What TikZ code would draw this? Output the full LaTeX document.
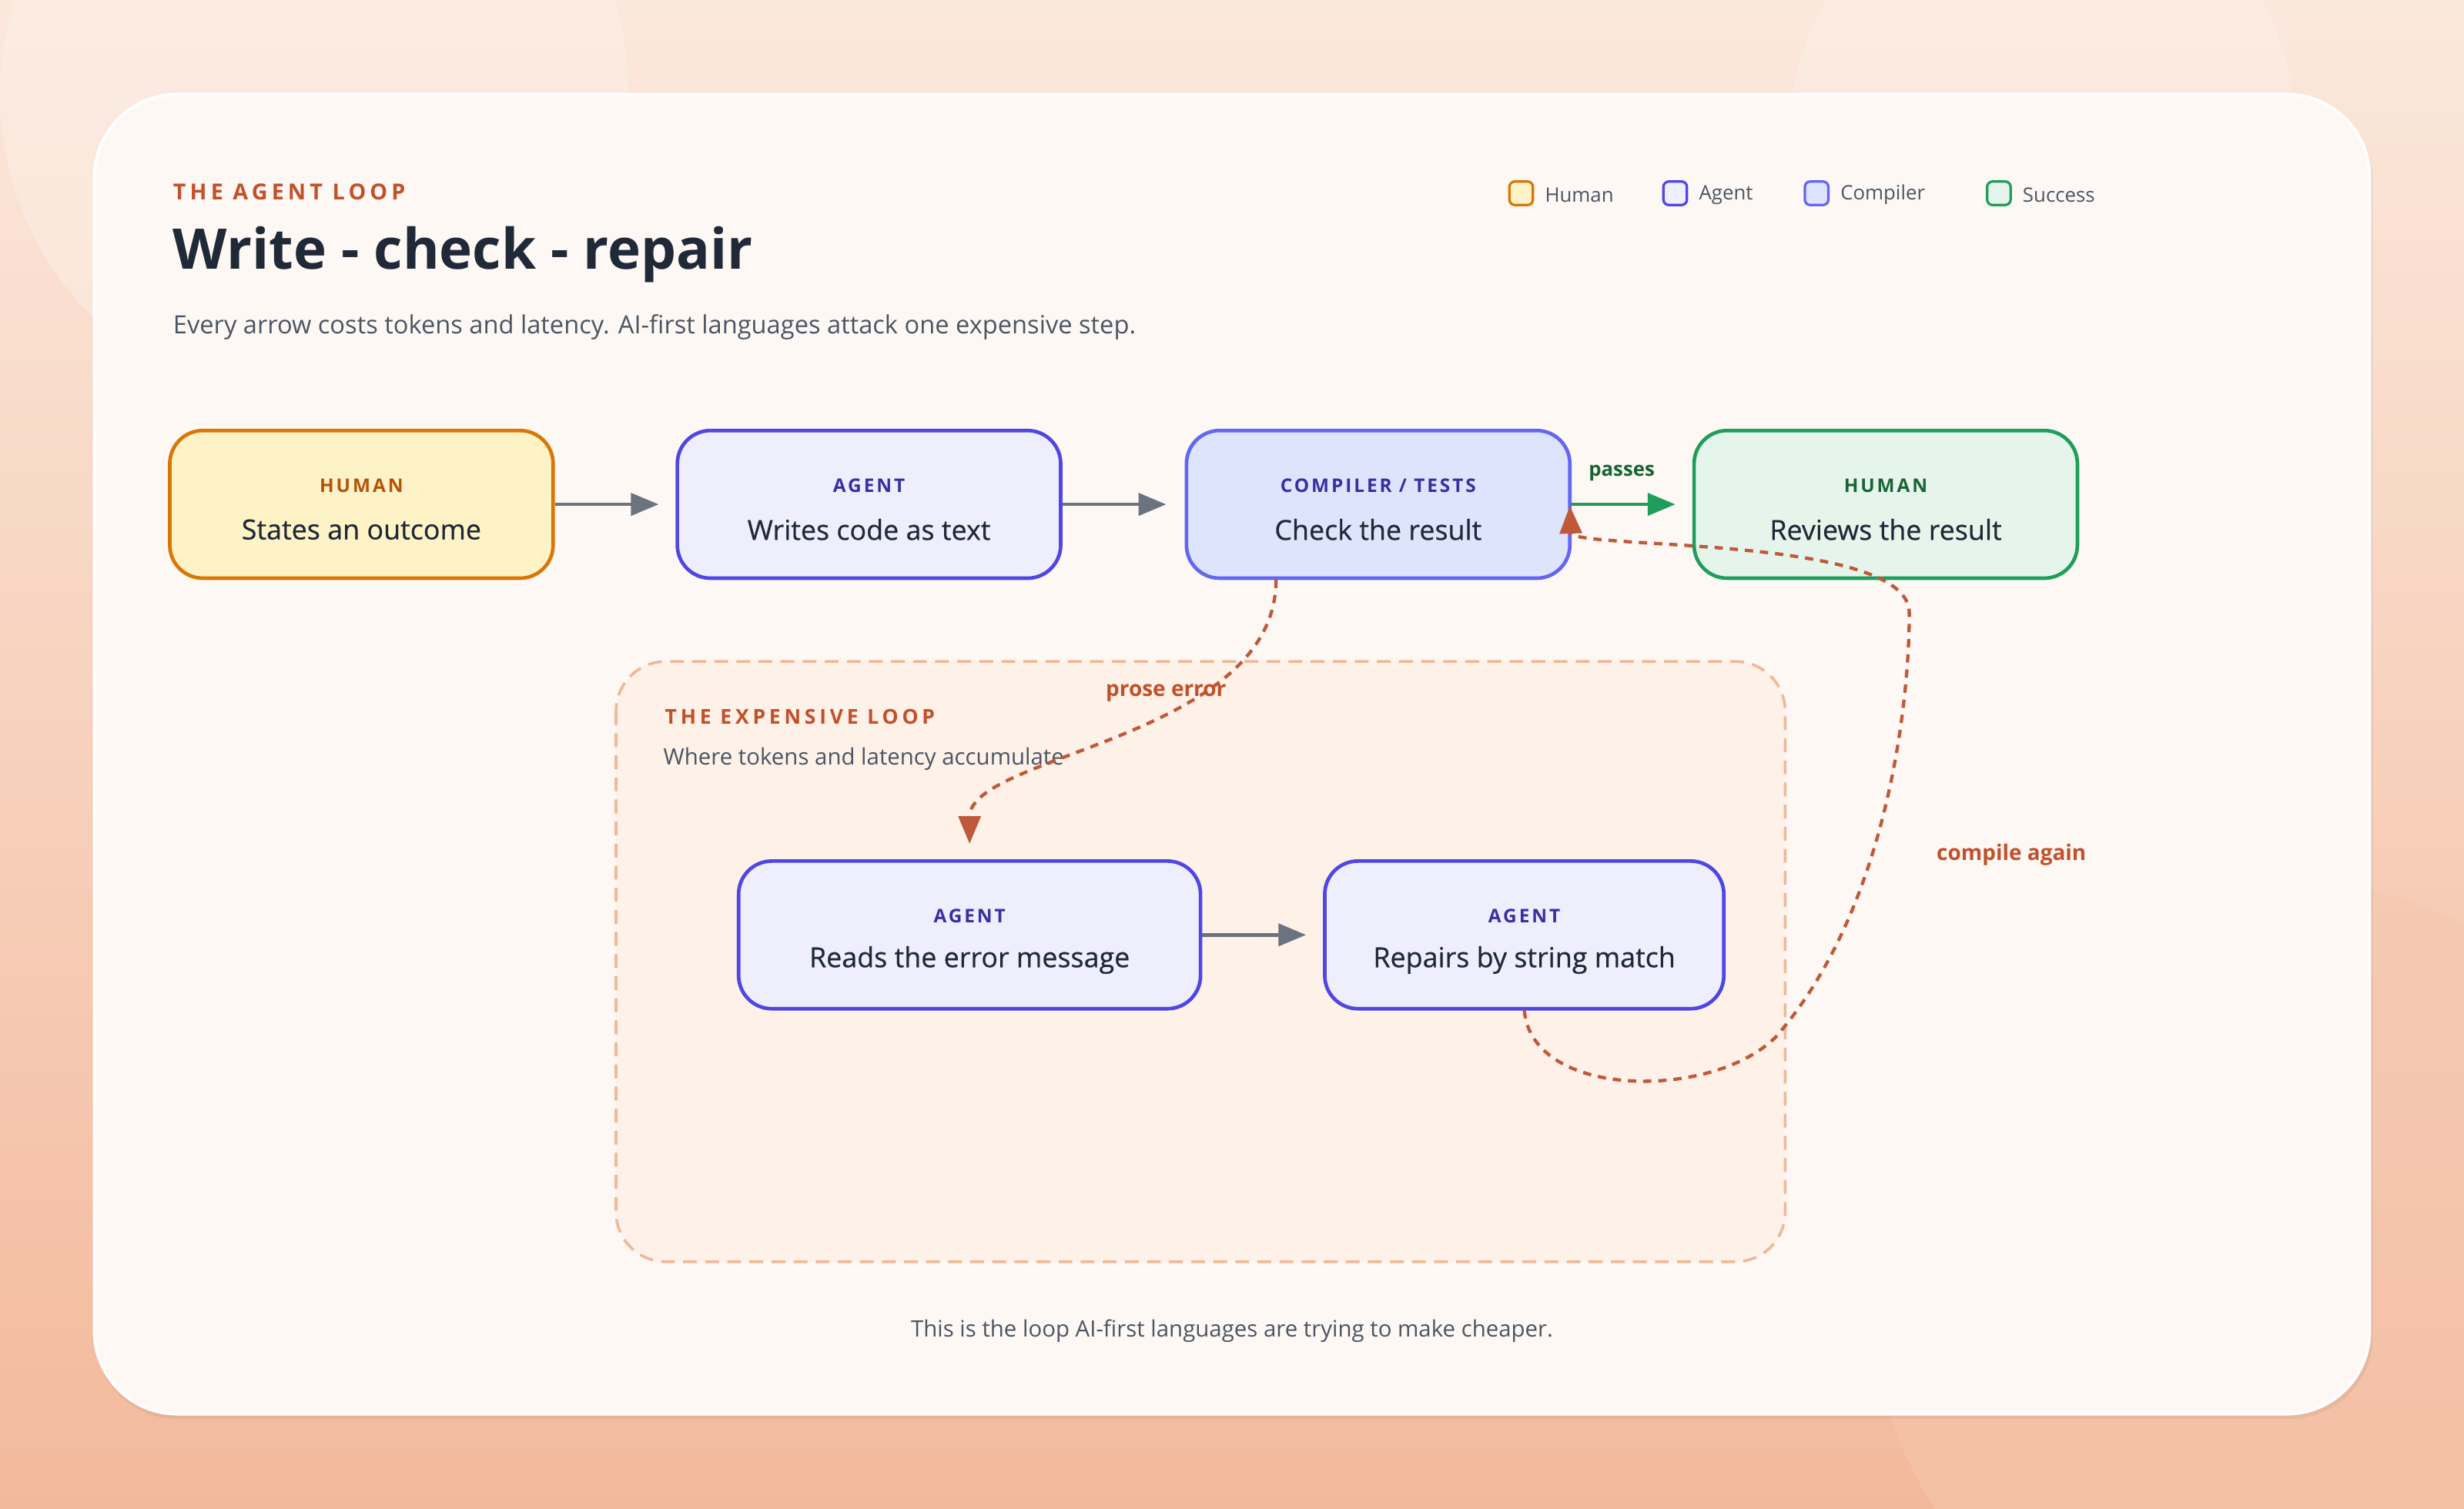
\documentclass[tikz,border=0pt]{standalone}
\usepackage{fontspec}
\setmainfont{Open Sans}
\usetikzlibrary{arrows.meta,shapes.geometric}
\definecolor{bgA}{HTML}{FBE8DC}
\definecolor{bgB}{HTML}{F3B99C}
\definecolor{card}{HTML}{FDF8F4}
\definecolor{ink}{HTML}{1F2937}
\definecolor{sub}{HTML}{4B5563}
\definecolor{orangeT}{HTML}{C2502A}
\definecolor{hFill}{HTML}{FEF3C7}\definecolor{hLine}{HTML}{D97706}\definecolor{hLab}{HTML}{B45309}
\definecolor{aFill}{HTML}{EEEEFC}\definecolor{aLine}{HTML}{4F46E5}\definecolor{aLab}{HTML}{3730A3}
\definecolor{cFill}{HTML}{DEE4FB}\definecolor{cLine}{HTML}{6366F1}
\definecolor{sFill}{HTML}{E6F5EC}\definecolor{sLine}{HTML}{1F9D5A}\definecolor{sLab}{HTML}{166534}
\definecolor{gArrow}{HTML}{6B7280}
\definecolor{loopLine}{HTML}{F0B89A}\definecolor{loopFill}{HTML}{FDF1E8}
\definecolor{redA}{HTML}{C0583A}
\begin{document}
\begin{tikzpicture}[x=0.02cm,y=-0.02cm,
  box/.style={draw, rounded corners=12, line width=1.3pt, minimum width=4.88cm, minimum height=1.88cm},
  lab/.style={font=\fontsize{6.8}{8}\selectfont\bfseries\addfontfeatures{LetterSpace=12}},
  main/.style={font=\fontsize{10}{12}\selectfont\addfontfeatures{FakeBold=0.5}, text=ink},
  garrow/.style={draw=gArrow, line width=1.3pt, -{Triangle[length=10pt,width=8pt]}},
  rarrow/.style={draw=redA, line width=1.2pt, dash pattern=on 3pt off 2.5pt, -{Triangle[length=10pt,width=8pt]}},
  leg/.style={draw, rounded corners=2, line width=0.9pt, minimum size=0.3cm, inner sep=0pt},
  legt/.style={font=\fontsize{7.2}{9}\selectfont, text=sub, anchor=west}]
\useasboundingbox (0,0) rectangle (1568,960);
\shade[left color=bgA, right color=bgB, shading angle=0] (0,0) rectangle (1568,960);
\fill[bgA!70!white, opacity=0.5] (200,60) circle (200);
\fill[bgB!70!bgA, opacity=0.5] (1450,820) circle (260);
\fill[bgA!60!white, opacity=0.4] (1300,80) circle (160);
\fill[black, opacity=0.05] (60,63) [rounded corners=30] rectangle (1510,903);
\fill[card, draw=white, line width=1pt, rounded corners=30] (60,60) rectangle (1508,900);
% header
\node[anchor=west, text=orangeT, font=\fontsize{8}{10}\selectfont\bfseries\addfontfeatures{LetterSpace=18}] (kick) at (104,122) {THE AGENT LOOP};
\node[anchor=west, text=ink, font=\fontsize{20.3}{24}\selectfont\bfseries] (title) at (104,162) {Write - check - repair};
\node[anchor=west, text=sub, font=\fontsize{9.1}{11}\selectfont] (subt) at (104,208) {Every arrow costs tokens and latency. AI-first languages attack one expensive step.};
% legend
\node[leg, draw=hLine, fill=hFill] (l1) at (968,123) {}; \node[legt] (l1t) at (977,124) {Human};
\node[leg, draw=aLine, fill=aFill] (l2) at (1066,123) {}; \node[legt] (l2t) at (1075,124) {Agent};
\node[leg, draw=cLine, fill=cFill] (l3) at (1156,123) {}; \node[legt] (l3t) at (1165,124) {Compiler};
\node[leg, draw=sLine, fill=sFill] (l4) at (1272,123) {}; \node[legt] (l4t) at (1281,124) {Success};
% loop region
\draw[loopLine, fill=loopFill, line width=1pt, dash pattern=on 5pt off 3pt, rounded corners=18] (392,421) rectangle (1136,803);
\node[anchor=west, text=orangeT, font=\fontsize{7.4}{9}\selectfont\bfseries\addfontfeatures{LetterSpace=18}] (lk) at (417,456) {THE EXPENSIVE LOOP};
\node[anchor=west, text=sub, font=\fontsize{8.2}{10}\selectfont] (ls) at (416,483) {Where tokens and latency accumulate};
% boxes
\node[box, draw=hLine, fill=hFill] (b1) at (230,321) {};
\node[lab, text=hLab] at (230,309) {HUMAN};
\node[main] at (230,337) {States an outcome};
\node[box, draw=aLine, fill=aFill] (b2) at (553,321) {};
\node[lab, text=aLab] at (553,309) {AGENT};
\node[main] at (553,337) {Writes code as text};
\node[box, draw=cLine, fill=cFill] (b3) at (877,321) {};
\node[lab, text=aLab] at (877,309) {COMPILER / TESTS};
\node[main] at (877,337) {Check the result};
\node[box, draw=sLine, fill=sFill] (b4) at (1200,321) {};
\node[lab, text=sLab] at (1200,309) {HUMAN};
\node[main] at (1200,337) {Reviews the result};
\node[box, draw=aLine, fill=aFill, minimum width=5.88cm] (b5) at (617,595) {};
\node[lab, text=aLab] at (617,583) {AGENT};
\node[main] at (617,611) {Reads the error message};
\node[box, draw=aLine, fill=aFill, minimum width=5.08cm] (b6) at (970,595) {};
\node[lab, text=aLab] at (970,583) {AGENT};
\node[main] at (970,611) {Repairs by string match};
% arrows
\draw[garrow] (b1.east) -- ++(66,0);
\draw[garrow] (b2.east) -- ++(66,0);
\draw[garrow] (b5.east) -- ++(66,0);
\draw[draw=sLine, line width=1.3pt, -{Triangle[length=10pt,width=8pt]}] (b3.east) -- ++(66,0);
\node[text=sLab, font=\fontsize{7.2}{9}\selectfont\bfseries] (pl) at (1032,301) {passes};
\coordinate (pe) at (617,537);
\draw[rarrow] (812,369) .. controls (812,470) and (617,480) .. (pe);
\node[text=orangeT, font=\fontsize{7.8}{9}\selectfont\bfseries] (pel) at (742,441) {prose error};
\coordinate (ce) at (999,322);
\draw[rarrow] (970,643) .. controls (975,700) and (1090,700) .. (1130,660)
  .. controls (1200,580) and (1215,450) .. (1215,390)
  .. controls (1215,340) and (1000,350) .. (ce);
\node[text=orangeT, font=\fontsize{7.8}{9}\selectfont\bfseries] (cel) at (1280,544) {compile again};
\node[text=sub, font=\fontsize{8.2}{10}\selectfont] (foot) at (784,847) {This is the loop AI-first languages are trying to make cheaper.};
\end{tikzpicture}
\end{document}
